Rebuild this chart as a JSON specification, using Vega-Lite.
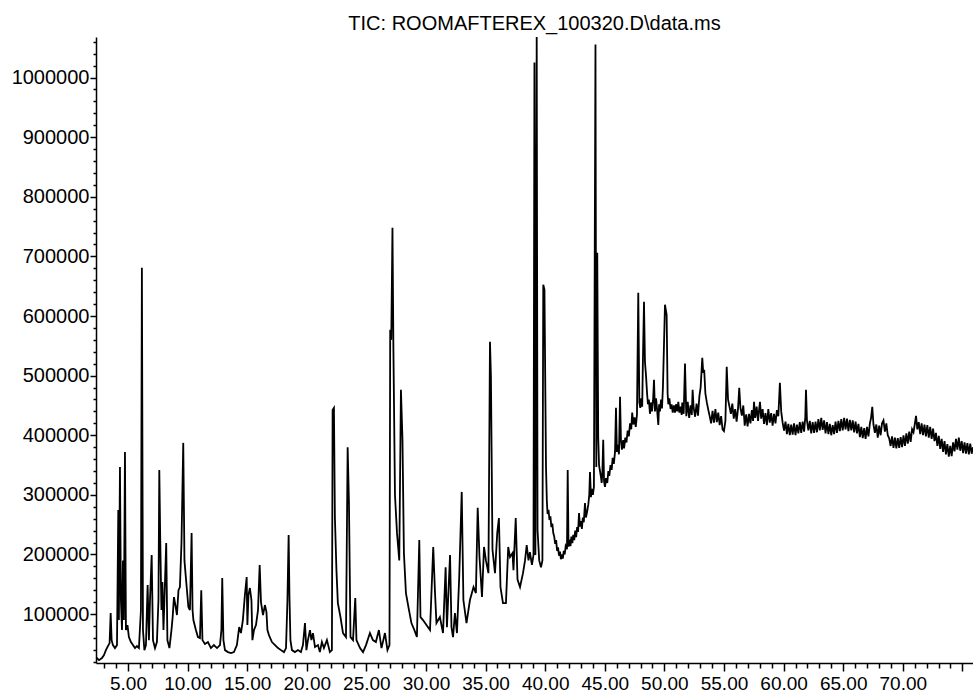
{
"$schema":"https://vega.github.io/schema/vega-lite/v6.json",
"width":877,"height":626,
"autosize":{"type":"none"},
"padding":{"left":96,"top":37,"right":0,"bottom":31},
"background":"white",
"title":{"text":"TIC: ROOMAFTEREX_100320.D\\data.ms","font":"Liberation Sans","fontSize":20,"fontWeight":"normal","color":"black","anchor":"middle","frame":"group","baseline":"alphabetic","offset":-18},
"config":{"view":{"stroke":null}},
"data":{"values":[
{"t":2.32,"v":27900},{"t":2.57,"v":22800},{"t":2.82,"v":26200},{"t":2.99,"v":31200},{"t":3.15,"v":39600},{"t":3.32,"v":46300},{"t":3.46,"v":51400},{"t":3.55,"v":101700},{"t":3.63,"v":56400},{"t":3.74,"v":48000},{"t":3.91,"v":43000},{"t":4.08,"v":48000},{"t":4.19,"v":274700},{"t":4.24,"v":90000},{"t":4.33,"v":346900},{"t":4.41,"v":123600},{"t":4.50,"v":73200},{"t":4.58,"v":190100},{"t":4.66,"v":90000},{"t":4.75,"v":372100},{"t":4.83,"v":73200},{"t":4.96,"v":81600},{"t":5.08,"v":61500},{"t":5.25,"v":53100},{"t":5.42,"v":48000},{"t":5.59,"v":43000},{"t":5.75,"v":46300},{"t":5.92,"v":43000},{"t":6.09,"v":106800},{"t":6.17,"v":681000},{"t":6.26,"v":73200},{"t":6.38,"v":39600},{"t":6.51,"v":48000},{"t":6.65,"v":148800},{"t":6.76,"v":56400},{"t":6.85,"v":123600},{"t":6.99,"v":199100},{"t":7.10,"v":56400},{"t":7.27,"v":43000},{"t":7.43,"v":53100},{"t":7.56,"v":123600},{"t":7.63,"v":341800},{"t":7.71,"v":224200},{"t":7.81,"v":106800},{"t":7.89,"v":153800},{"t":7.98,"v":73200},{"t":8.06,"v":123600},{"t":8.21,"v":219300},{"t":8.31,"v":56400},{"t":8.48,"v":43000},{"t":8.65,"v":73200},{"t":8.75,"v":95000},{"t":8.86,"v":128600},{"t":8.98,"v":115200},{"t":9.11,"v":98400},{"t":9.24,"v":140100},{"t":9.36,"v":145400},{"t":9.49,"v":219300},{"t":9.64,"v":387200},{"t":9.74,"v":190100},{"t":9.82,"v":170400},{"t":9.95,"v":140100},{"t":10.07,"v":111800},{"t":10.20,"v":106800},{"t":10.34,"v":236200},{"t":10.42,"v":106800},{"t":10.49,"v":90000},{"t":10.70,"v":73200},{"t":10.87,"v":61500},{"t":11.04,"v":59800},{"t":11.15,"v":140100},{"t":11.25,"v":56400},{"t":11.46,"v":49700},{"t":11.71,"v":53100},{"t":11.96,"v":43000},{"t":12.21,"v":48000},{"t":12.47,"v":43000},{"t":12.72,"v":48000},{"t":12.84,"v":73200},{"t":12.91,"v":160500},{"t":13.01,"v":56400},{"t":13.14,"v":39600},{"t":13.39,"v":36300},{"t":13.64,"v":34600},{"t":13.89,"v":36300},{"t":14.14,"v":48000},{"t":14.33,"v":78200},{"t":14.48,"v":68200},{"t":14.64,"v":90000},{"t":14.81,"v":131900},{"t":14.96,"v":162200},{"t":15.02,"v":81600},{"t":15.11,"v":131900},{"t":15.23,"v":143800},{"t":15.36,"v":123600},{"t":15.44,"v":56400},{"t":15.57,"v":73200},{"t":15.74,"v":81600},{"t":15.91,"v":106800},{"t":16.05,"v":182500},{"t":16.16,"v":120200},{"t":16.33,"v":98400},{"t":16.49,"v":115200},{"t":16.62,"v":103400},{"t":16.70,"v":73200},{"t":16.83,"v":64800},{"t":17.08,"v":53100},{"t":17.34,"v":48000},{"t":17.59,"v":43000},{"t":17.84,"v":39600},{"t":18.09,"v":36300},{"t":18.26,"v":43000},{"t":18.38,"v":123600},{"t":18.48,"v":232700},{"t":18.55,"v":128600},{"t":18.63,"v":56400},{"t":18.76,"v":39600},{"t":19.01,"v":36300},{"t":19.26,"v":39600},{"t":19.51,"v":36300},{"t":19.68,"v":48000},{"t":19.85,"v":85000},
{"t":19.97,"v":39600},{"t":20.10,"v":56400},{"t":20.27,"v":73200},{"t":20.39,"v":56400},{"t":20.52,"v":68200},{"t":20.69,"v":44700},{"t":20.94,"v":48000},{"t":21.10,"v":36300},{"t":21.27,"v":53100},{"t":21.44,"v":43000},{"t":21.69,"v":56400},{"t":21.94,"v":36300},{"t":22.11,"v":39600},{"t":22.17,"v":442500},{"t":22.28,"v":446000},{"t":22.36,"v":262900},{"t":22.49,"v":173800},{"t":22.61,"v":118500},{"t":22.83,"v":95000},{"t":23.04,"v":68200},{"t":23.29,"v":61500},{"t":23.43,"v":380000},{"t":23.54,"v":286400},{"t":23.67,"v":61500},{"t":23.88,"v":56400},{"t":24.07,"v":126900},{"t":24.17,"v":56400},{"t":24.47,"v":43000},{"t":24.72,"v":36300},{"t":24.97,"v":48000},{"t":25.30,"v":68200},{"t":25.55,"v":56400},{"t":25.80,"v":53100},{"t":26.05,"v":73200},{"t":26.27,"v":43000},{"t":26.56,"v":68200},{"t":26.77,"v":39600},{"t":26.94,"v":48000},{"t":27.00,"v":576800},{"t":27.09,"v":560000},{"t":27.19,"v":748200},{"t":27.27,"v":543300},{"t":27.40,"v":299900},{"t":27.57,"v":236200},{"t":27.76,"v":190100},{"t":27.90,"v":476300},{"t":28.03,"v":392300},{"t":28.15,"v":202500},{"t":28.32,"v":135300},{"t":28.53,"v":111800},{"t":28.78,"v":85000},{"t":29.03,"v":73200},{"t":29.24,"v":61500},{"t":29.44,"v":224200},{"t":29.54,"v":95000},{"t":29.75,"v":90000},{"t":30.04,"v":81600},{"t":30.34,"v":73200},{"t":30.61,"v":212600},{"t":30.76,"v":135300},{"t":30.88,"v":85000},{"t":31.17,"v":95000},{"t":31.43,"v":68200},{"t":31.65,"v":178400},{"t":31.76,"v":78200},{"t":32.02,"v":199100},{"t":32.14,"v":78200},{"t":32.27,"v":61500},{"t":32.43,"v":101700},{"t":32.60,"v":68200},{"t":32.79,"v":162200},{"t":33.00,"v":305000},{"t":33.14,"v":123600},{"t":33.40,"v":85000},{"t":33.69,"v":123600},{"t":33.99,"v":145400},{"t":34.19,"v":135300},{"t":34.34,"v":278200},{"t":34.49,"v":195800},{"t":34.70,"v":128600},{"t":34.87,"v":212600},{"t":35.03,"v":190100},{"t":35.24,"v":168700},{"t":35.37,"v":556700},{"t":35.45,"v":498000},{"t":35.58,"v":208400},{"t":35.79,"v":168700},{"t":35.98,"v":236200},{"t":36.12,"v":261200},{"t":36.25,"v":145400},{"t":36.46,"v":118500},{"t":36.71,"v":118500},{"t":36.90,"v":212600},{"t":37.05,"v":195800},{"t":37.26,"v":202500},{"t":37.34,"v":173800},{"t":37.53,"v":261200},{"t":37.68,"v":157800},{"t":37.89,"v":145400},
{"t":38.14,"v":168700},{"t":38.31,"v":190100},{"t":38.45,"v":215900},{"t":38.60,"v":190100},{"t":38.72,"v":203800},{"t":38.89,"v":182500},{"t":39.02,"v":199100},{"t":39.10,"v":1025200},{"t":39.18,"v":199100},{"t":39.29,"v":1075600},{"t":39.36,"v":241100},{"t":39.50,"v":190100},{"t":39.65,"v":178400},{"t":39.77,"v":190100},{"t":39.84,"v":652500},{"t":39.94,"v":644100},
{"t":40.07,"v":346900},{"t":40.14,"v":290000},{"t":40.20,"v":268000},{"t":40.28,"v":275000},{"t":40.36,"v":258000},{"t":40.44,"v":264000},{"t":40.52,"v":246000},{"t":40.60,"v":252000},{"t":40.68,"v":236000},{"t":40.76,"v":230000},{"t":40.84,"v":218000},{"t":40.92,"v":224000},{"t":41.00,"v":206000},{"t":41.08,"v":212000},{"t":41.16,"v":198000},{"t":41.24,"v":205000},{"t":41.32,"v":192000},{"t":41.40,"v":200000},{"t":41.48,"v":193000},{"t":41.56,"v":206000},{"t":41.64,"v":200000},{"t":41.72,"v":214000},{"t":41.83,"v":209000},{"t":41.89,"v":341800},{"t":41.96,"v":213000},{"t":42.04,"v":225000},{"t":42.12,"v":214000},{"t":42.20,"v":230000},{"t":42.28,"v":219000},{"t":42.36,"v":233000},{"t":42.44,"v":224000},{"t":42.52,"v":240000},{"t":42.60,"v":229000},{"t":42.68,"v":246000},{"t":42.76,"v":238000},{"t":42.84,"v":269700},{"t":42.92,"v":247000},{"t":43.00,"v":256000},{"t":43.08,"v":243000},{"t":43.16,"v":262000},{"t":43.24,"v":254000},{"t":43.34,"v":286400},{"t":43.42,"v":262000},{"t":43.53,"v":273000},{"t":43.62,"v":284000},{"t":43.70,"v":300000},{"t":43.76,"v":338500},{"t":43.84,"v":296000},{"t":43.90,"v":310000},{"t":44.00,"v":300000},{"t":44.09,"v":313300},{"t":44.22,"v":1055500},{"t":44.29,"v":346900},{"t":44.37,"v":706000},{"t":44.45,"v":397100},{"t":44.52,"v":350000},{"t":44.60,"v":340000},{"t":44.68,"v":330000},{"t":44.74,"v":320000},{"t":44.80,"v":338000},{"t":44.87,"v":392300},{"t":44.94,"v":322000},{"t":45.02,"v":313300},{"t":45.10,"v":328000},{"t":45.21,"v":320000},{"t":45.30,"v":340000},{"t":45.38,"v":332000},{"t":45.48,"v":350000},{"t":45.58,"v":342000},{"t":45.66,"v":362000},{"t":45.76,"v":352000},{"t":45.86,"v":372000},{"t":45.94,"v":446000},{"t":46.02,"v":372000},{"t":46.10,"v":384000},{"t":46.19,"v":368000},{"t":46.28,"v":464500},{"t":46.36,"v":390000},{"t":46.44,"v":376000},{"t":46.54,"v":392000},{"t":46.62,"v":378000},{"t":46.72,"v":396000},{"t":46.82,"v":388000},{"t":46.92,"v":408000},{"t":47.02,"v":398000},{"t":47.12,"v":420000},{"t":47.22,"v":410000},{"t":47.30,"v":438000},{"t":47.40,"v":418000},{"t":47.50,"v":430000},{"t":47.60,"v":414000},{"t":47.70,"v":434300},{"t":47.81,"v":639000},{"t":47.90,"v":455000},{"t":47.98,"v":446000},{"t":48.06,"v":462000},{"t":48.14,"v":448000},{"t":48.20,"v":526200},{"t":48.29,"v":623900},{"t":48.37,"v":523200},{"t":48.46,"v":500000},{"t":48.55,"v":470000},{"t":48.62,"v":452000},{"t":48.70,"v":460000},{"t":48.79,"v":436000},{"t":48.88,"v":455000},{"t":48.96,"v":440000},{"t":49.05,"v":458000},{"t":49.13,"v":493000},{"t":49.21,"v":440000},{"t":49.30,"v":462000},{"t":49.38,"v":445000},{"t":49.49,"v":417400},{"t":49.56,"v":452000},{"t":49.63,"v":440000},{"t":49.72,"v":460000},{"t":49.80,"v":445000},{"t":49.88,"v":481300},{"t":50.05,"v":618900},{"t":50.19,"v":602100},{"t":50.27,"v":470000},{"t":50.33,"v":452000},{"t":50.42,"v":462000},{"t":50.52,"v":444000},{"t":50.61,"v":452000},{"t":50.70,"v":438000},{"t":50.80,"v":450000},{"t":50.89,"v":438000},{"t":50.98,"v":452000},{"t":51.08,"v":440000},{"t":51.17,"v":456000},{"t":51.26,"v":438000},{"t":51.36,"v":448000},{"t":51.45,"v":434000},
{"t":51.50,"v":455000},{"t":51.62,"v":436000},{"t":51.73,"v":520300},{"t":51.84,"v":432000},{"t":51.96,"v":456000},{"t":52.08,"v":429000},{"t":52.20,"v":450000},{"t":52.30,"v":434000},{"t":52.37,"v":476300},{"t":52.45,"v":447000},{"t":52.58,"v":431000},{"t":52.70,"v":453000},{"t":52.82,"v":433000},{"t":52.94,"v":466000},{"t":53.04,"v":480000},{"t":53.18,"v":529800},{"t":53.26,"v":504700},{"t":53.34,"v":510000},{"t":53.44,"v":470000},{"t":53.56,"v":455000},{"t":53.68,"v":443000},{"t":53.80,"v":432000},{"t":53.92,"v":420000},{"t":54.04,"v":441000},{"t":54.16,"v":421000},{"t":54.28,"v":444000},{"t":54.40,"v":422000},{"t":54.52,"v":438000},{"t":54.64,"v":417000},{"t":54.76,"v":432000},{"t":54.88,"v":410000},{"t":55.00,"v":407000},{"t":55.12,"v":424000},{"t":55.23,"v":514800},{"t":55.34,"v":460000},{"t":55.46,"v":448000},{"t":55.58,"v":436000},{"t":55.70,"v":453000},{"t":55.82,"v":428000},{"t":55.94,"v":444000},{"t":56.06,"v":423000},{"t":56.18,"v":445000},{"t":56.28,"v":479700},{"t":56.38,"v":446000},{"t":56.50,"v":433000},{"t":56.62,"v":450000},{"t":56.74,"v":416000},{"t":56.86,"v":435000},{"t":56.98,"v":415000},{"t":57.10,"v":436000},{"t":57.22,"v":420000},{"t":57.34,"v":442000},{"t":57.44,"v":424000},{"t":57.52,"v":456000},{"t":57.62,"v":429000},{"t":57.74,"v":448000},{"t":57.86,"v":424000},{"t":57.96,"v":445000},{"t":58.02,"v":456000},{"t":58.12,"v":428000},{"t":58.24,"v":444000},{"t":58.36,"v":419000},{"t":58.48,"v":437000},{"t":58.60,"v":417000},{"t":58.72,"v":444000},{"t":58.84,"v":421000},{"t":58.96,"v":437000},{"t":59.08,"v":416000},{"t":59.20,"v":436000},{"t":59.32,"v":420000},{"t":59.44,"v":442000},{"t":59.56,"v":432000},{"t":59.69,"v":488000},{"t":59.80,"v":440000},{"t":59.92,"v":421000},{"t":60.04,"v":408000},{"t":60.16,"v":423000},{"t":60.28,"v":402000},{"t":60.40,"v":419000},{"t":60.52,"v":400000},{"t":60.64,"v":418000},{"t":60.76,"v":401000},{"t":60.88,"v":420000},{"t":61.00,"v":400000},{"t":61.12,"v":418000},{"t":61.24,"v":403000},{"t":61.36,"v":422000},{"t":61.48,"v":404000},{"t":61.60,"v":423000},{"t":61.72,"v":406000},{"t":61.82,"v":430000},{"t":61.88,"v":476300},{"t":61.96,"v":425000},{"t":62.08,"v":408000},{"t":62.20,"v":424000},{"t":62.32,"v":403000},{"t":62.44,"v":422000},{"t":62.56,"v":404000},{"t":62.68,"v":423000},{"t":62.80,"v":405000},{"t":62.92,"v":427000},{"t":63.04,"v":408000},{"t":63.16,"v":429000},{"t":63.28,"v":409000},{"t":63.40,"v":425000},{"t":63.52,"v":403000},{"t":63.64,"v":422000},{"t":63.76,"v":402000},{"t":63.88,"v":419000},{"t":64.00,"v":400000},{"t":64.12,"v":417000},{"t":64.24,"v":402000},{"t":64.36,"v":423000},{"t":64.48,"v":404000},{"t":64.60,"v":424000},{"t":64.72,"v":407000},{"t":64.84,"v":427000},{"t":64.96,"v":408000},{"t":65.08,"v":429000},{"t":65.20,"v":410000},{"t":65.32,"v":428000},{"t":65.44,"v":407000},{"t":65.56,"v":426000},{"t":65.68,"v":408000},{"t":65.80,"v":425000},{"t":65.92,"v":405000},{"t":66.04,"v":423000},{"t":66.16,"v":403000},{"t":66.28,"v":419000},{"t":66.40,"v":397000},{"t":66.52,"v":414000},{"t":66.64,"v":395000},{"t":66.76,"v":412000},{"t":66.88,"v":394000},{"t":67.00,"v":414000},{"t":67.12,"v":398000},{"t":67.24,"v":420000},{"t":67.33,"v":428000},{"t":67.44,"v":447600},{"t":67.54,"v":418000},{"t":67.66,"v":404000},{"t":67.78,"v":418000},{"t":67.90,"v":396000},{"t":68.02,"v":416000},{"t":68.14,"v":400000},{"t":68.26,"v":420000},{"t":68.38,"v":425000},{"t":68.50,"v":406000},{"t":68.62,"v":420000},{"t":68.74,"v":400000},{"t":68.86,"v":395000},{"t":68.98,"v":382000},{"t":69.10,"v":398000},{"t":69.22,"v":379000},{"t":69.34,"v":396000},{"t":69.46,"v":378000},{"t":69.58,"v":395000},{"t":69.70,"v":379000},{"t":69.82,"v":397000},{"t":69.94,"v":380000},{"t":70.06,"v":400000},{"t":70.18,"v":382000},{"t":70.30,"v":403000},{"t":70.42,"v":386000},{"t":70.54,"v":406000},{"t":70.66,"v":389000},{"t":70.78,"v":410000},{"t":70.90,"v":405000},{"t":71.00,"v":418000},{"t":71.11,"v":432500},{"t":71.22,"v":410000},{"t":71.34,"v":422000},{"t":71.46,"v":402000},{"t":71.58,"v":420000},{"t":71.70,"v":400000},{"t":71.82,"v":418000},{"t":71.94,"v":398000},{"t":72.06,"v":417000},{"t":72.18,"v":396000},{"t":72.30,"v":414000},{"t":72.42,"v":394000},{"t":72.54,"v":411000},{"t":72.66,"v":390000},{"t":72.78,"v":404000},{"t":72.90,"v":382000},{"t":73.02,"v":399000},{"t":73.14,"v":377000},{"t":73.26,"v":394000},{"t":73.38,"v":372000},{"t":73.50,"v":390000},{"t":73.62,"v":368000},{"t":73.74,"v":385000},{"t":73.86,"v":364000},{"t":73.98,"v":382000},{"t":74.10,"v":365000},{"t":74.22,"v":388000},{"t":74.34,"v":373000},{"t":74.46,"v":394000},{"t":74.58,"v":376000},{"t":74.70,"v":396000},{"t":74.82,"v":374000},{"t":74.94,"v":390000},{"t":75.06,"v":370000},{"t":75.18,"v":388000},{"t":75.30,"v":369000},{"t":75.42,"v":387000},{"t":75.54,"v":368000},{"t":75.66,"v":386000},{"t":75.78,"v":369000},{"t":75.89,"v":380000}
]},
"mark":{"type":"line","color":"black","strokeWidth":1.8,"clip":true},
"encoding":{
"x":{"field":"t","type":"quantitative","scale":{"domain":[2.32,75.89],"nice":false,"zero":false},
"axis":{"title":null,"grid":false,"values":[3,4,5,6,7,8,9,10,11,12,13,14,15,16,17,18,19,20,21,22,23,24,25,26,27,28,29,30,31,32,33,34,35,36,37,38,39,40,41,42,43,44,45,46,47,48,49,50,51,52,53,54,55,56,57,58,59,60,61,62,63,64,65,66,67,68,69,70,71,72,73,74,75],
"labelExpr":"datum.value % 5 === 0 && datum.value < 75 ? format(datum.value, '.2f') : ''",
"tickSize":{"condition":{"test":"datum.value % 5 === 0","value":8},"value":5},
"labelFont":"Liberation Sans","labelFontSize":19,"labelColor":"black","labelPadding":3,"labelOverlap":false,"labelFlush":false,
"domainColor":"black","domainWidth":1.5,"tickColor":"black","tickWidth":1.5}},
"y":{"field":"v","type":"quantitative","scale":{"domain":[18000,1068000],"nice":false,"zero":false},
"axis":{"title":null,"grid":false,"values":[20000,40000,60000,80000,100000,120000,140000,160000,180000,200000,220000,240000,260000,280000,300000,320000,340000,360000,380000,400000,420000,440000,460000,480000,500000,520000,540000,560000,580000,600000,620000,640000,660000,680000,700000,720000,740000,760000,780000,800000,820000,840000,860000,880000,900000,920000,940000,960000,980000,1000000,1020000,1040000,1060000],
"labelExpr":"datum.value % 100000 === 0 ? format(datum.value, 'd') : ''",
"tickSize":{"condition":{"test":"datum.value % 100000 === 0","value":6},"value":3},
"labelFont":"Liberation Sans","labelFontSize":20,"labelColor":"black","labelPadding":1,"labelOverlap":false,"labelFlush":false,
"domainColor":"black","domainWidth":1.5,"tickColor":"black","tickWidth":1.5}}
}
}
